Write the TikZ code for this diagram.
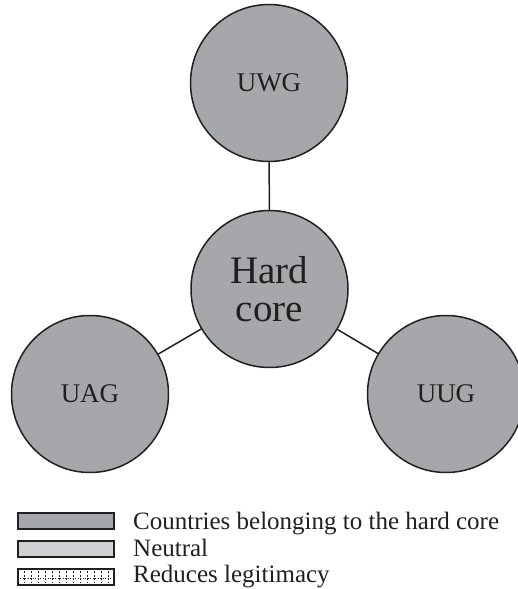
\documentclass[tikz,border=0pt]{standalone}
\usepackage{fontspec}
\setmainfont{Liberation Serif}
\definecolor{coregray}{RGB}{166,167,171}
\definecolor{neutralgray}{RGB}{208,209,211}
\definecolor{inkblack}{RGB}{35,31,32}
\tikzset{
    group/.style={circle, draw=inkblack, line width=1.5pt, fill=coregray, minimum size=157pt, inner sep=0pt, text=inkblack, font=\fontsize{27}{30}\selectfont},
    legendbox/.style={draw=inkblack, line width=2pt},
    legendtext/.style={anchor=base west, inner sep=0pt, text=inkblack, font=\fontsize{25}{28}\selectfont}
}
\begin{document}
\begin{tikzpicture}[x=1pt, y=-1pt]
    \useasboundingbox (0,0) rectangle (517,589);

    \node[group] (core) at (269.5,289) {};
    \node[group] (uwg) at (269,83) {UWG};
    \node[group] (uag) at (90,394) {UAG};
    \node[group] (uug) at (446,394) {UUG};
    \node[align=center, text=inkblack, font=\fontsize{39}{38}\selectfont] (coretext) at (core.center) {Hard\\core};

    \draw[inkblack, line width=1.5pt] (uwg) -- (core)
    (core) -- (uag)
    (core) -- (uug);

    \draw[legendbox, fill=coregray] (18,513) rectangle (114,529);
    \draw[legendbox, fill=neutralgray] (18,541) rectangle (114,557);
    \draw[legendbox, line width=2.5pt, fill=white] (18,569) rectangle (114,585);
    \foreach \x in {24,31,...,108}
        \draw[inkblack, dash pattern=on 2pt off 1.5pt, line width=0.8pt] (\x,571) -- (\x,583);
    \draw[inkblack, dash pattern=on 1pt off 1.5pt, line width=0.8pt] (20,578) -- (112,578);

    \node[legendtext] (lcore) at (133,529) {Countries belonging to the hard core};
    \node[legendtext] (lneutral) at (133,556) {Neutral};
    \node[legendtext] (lreduce) at (133,582) {Reduces legitimacy};
\end{tikzpicture}
\end{document}
